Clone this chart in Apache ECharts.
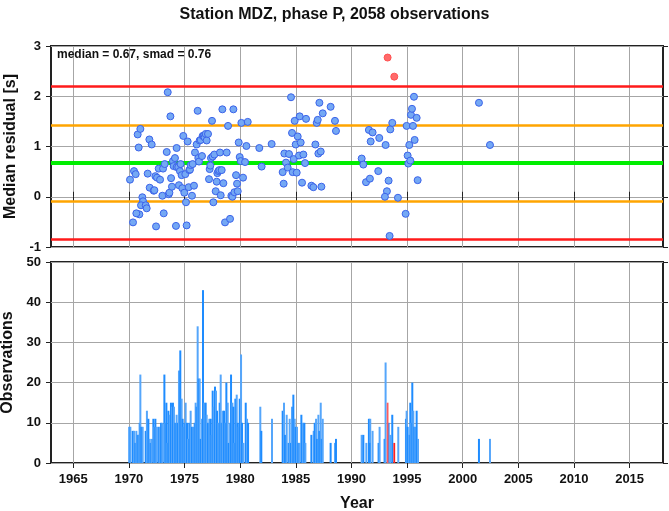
<!DOCTYPE html>
<html>
<head>
<meta charset="utf-8">
<script src="https://cdn.jsdelivr.net/npm/echarts@6/dist/echarts.min.js"></script>
<style>
html,body{margin:0;padding:0;background:#fff;}
#chart{width:669px;height:511px;}
</style>
</head>
<body>
<div id="chart"></div>
<script>
const titleText = 'Station MDZ, phase P, 2058 observations';
const medianValue = 0.67;
const smadValue = 0.76;
const xTicks = [1965, 1970, 1975, 1980, 1985, 1990, 1995, 2000, 2005, 2010, 2015];
const residualTicks = [-1, 0, 1, 2, 3];
const countTicks = [0, 10, 20, 30, 40, 50];

const scatterYears = [
1970.10,1970.37,1970.46,1970.61,1970.79,1970.88,1971.03,1970.94,1970.67,1971.21,1971.27,1971.09,1971.51,1971.60,1971.69,1971.84,1971.87,1972.05,1972.23,1972.29,
1972.38,1972.44,1972.53,1972.68,1972.80,1973.01,1973.07,1973.13,1973.22,1973.40,1973.49,1973.58,1973.64,1973.73,1973.79,1973.87,1973.96,1974.02,1974.14,1974.23,
1974.29,1974.29,1974.44,1974.50,1974.59,1974.65,1974.74,1974.80,1974.89,1974.98,1975.07,1975.13,1975.19,1975.28,1975.37,1975.43,1975.49,1975.55,1975.67,1975.73,
1975.85,1975.94,1976.09,1976.18,1976.24,1976.30,1976.36,1976.45,1976.57,1976.63,1976.72,1976.81,1976.90,1976.99,1977.11,1977.20,1977.26,1977.32,1977.38,1977.47,
1977.53,1977.59,1977.68,1977.80,1977.89,1977.95,1978.04,1978.13,1978.19,1978.25,1978.34,1978.40,1978.49,1978.64,1978.79,1978.91,1979.09,1979.21,1979.30,1979.39,
1979.48,1979.63,1979.72,1979.78,1979.87,1979.96,1980.05,1980.11,1980.26,1980.44,1980.56,1980.68,1981.72,1981.93,1982.83,1983.82,1983.91,1983.97,1984.12,1984.27,
1984.39,1984.57,1984.66,1984.72,1984.81,1984.90,1984.99,1985.08,1985.17,1985.29,1985.35,1985.44,1985.56,1985.68,1985.83,1985.92,1986.40,1986.58,1986.76,1986.88,
1986.97,1987.03,1987.24,1987.30,1987.12,1987.42,1988.13,1988.52,1988.61,
1990.92,1991.07,1991.31,1991.66,1991.57,1991.90,1991.73,1992.50,1992.41,1993.07,1993.34,1993.19,1993.01,1993.43,1993.49,1993.67,1994.18,1994.87,1994.96,1995.05,
1995.11,1995.20,1995.29,1995.35,1995.44,1995.53,1995.62,1995.68,1995.86,1995.95,2001.46,2002.45
];
const scatterResiduals = [
0.34,-0.51,0.51,0.45,1.24,0.98,1.35,-0.35,-0.33,-0.01,-0.09,-0.17,-0.17,-0.23,0.46,1.14,0.18,1.04,0.12,0.13,
0.41,-0.59,0.38,0.56,0.34,0.02,0.56,-0.33,0.65,0.89,2.08,0.05,0.08,1.60,0.37,0.20,0.71,0.61,0.77,-0.58,
0.97,0.59,0.59,0.23,0.51,0.65,0.43,0.17,1.21,0.08,0.45,-0.11,-0.57,1.10,0.19,0.53,0.54,0.63,0.02,0.65,
0.22,0.88,1.04,1.71,0.77,0.70,1.12,1.13,0.81,1.21,1.21,1.18,1.25,1.12,1.25,0.35,0.55,0.62,0.77,1.51,
0.80,-0.11,0.84,0.11,0.30,0.47,0.51,0.53,0.88,0.03,0.53,1.74,0.27,-0.51,0.88,1.41,-0.44,0.02,0.00,1.74,
0.09,0.43,0.26,0.11,1.08,0.79,0.71,1.47,0.38,0.69,1.01,1.49,0.97,0.60,1.05,0.49,0.26,0.86,0.68,0.58,
0.85,1.98,1.27,0.49,0.75,1.51,1.04,0.48,1.20,0.82,1.60,1.08,0.28,0.84,0.67,1.55,0.22,0.19,1.04,1.47,
1.53,0.86,0.90,0.20,1.87,1.66,1.79,1.51,1.31,
0.76,0.64,0.29,0.36,1.33,1.28,1.10,1.17,0.51,1.03,0.32,0.11,0.00,-0.78,1.34,1.47,-0.02,-0.34,1.41,0.82,
0.66,1.03,0.72,1.63,1.75,1.41,1.99,1.13,1.57,0.33,1.87,1.03
];
const outlierYears = [1993.25, 1993.85];
const outlierResiduals = [2.77, 2.39];

const barYears = [
1970.04,1970.13,1970.34,1970.46,1970.58,1970.67,1970.79,1970.88,1970.97,1971.03,1971.12,1971.24,1971.51,1971.62,1971.75,1971.87,1971.96,1972.05,1972.20,1972.29,
1972.38,1972.47,1972.65,1972.77,1972.89,1973.01,1973.19,1973.28,1973.37,1973.46,1973.55,1973.67,1973.78,1973.87,1973.96,1974.05,1974.17,1974.29,1974.38,1974.50,
1974.62,1974.74,1974.83,1974.92,1975.01,1975.10,1975.22,1975.31,1975.43,1975.55,1975.67,1975.79,1975.91,1976.00,1976.09,1976.18,1976.27,1976.36,1976.45,1976.57,
1976.66,1976.78,1976.90,1976.99,1977.11,1977.23,1977.35,1977.44,1977.53,1977.62,1977.74,1977.83,1977.92,1978.04,1978.16,1978.25,1978.34,1978.43,1978.55,1978.67,
1978.76,1978.88,1978.97,1979.09,1979.18,1979.30,1979.39,1979.48,1979.57,1979.69,1979.78,1979.87,1979.96,1980.08,1980.17,1980.29,1980.50,1980.62,1980.71,1981.81,
1981.90,1982.86,1983.82,1983.94,1984.03,1984.18,1984.36,1984.45,1984.57,1984.66,1984.78,1984.90,1984.99,1985.11,1985.23,1985.32,1985.50,1985.65,1985.77,1985.86,
1986.40,1986.61,1986.70,1986.82,1986.91,1987.03,1987.12,1987.24,1987.33,1987.42,1988.13,1988.52,1988.61,
1990.92,1991.07,1991.34,1991.57,1991.69,1991.62,1991.90,1992.44,1992.53,1992.98,1993.07,1993.34,1993.49,1993.67,1994.21,1994.90,1994.96,1995.05,1995.17,1995.29,
1995.38,1995.47,1995.56,1995.65,1995.74,1995.86,1995.98,2001.46,2002.45
];
const barCounts = [
9,9,8,8,5,8,7,7,10,22,9,9,8,13,11,6,5,6,11,9,
11,9,9,9,10,10,22,10,15,5,13,12,15,14,15,14,10,12,10,23,
28,16,11,9,10,15,10,6,10,13,9,9,10,15,14,34,21,21,6,11,
43,15,15,12,10,11,11,7,18,14,19,18,13,10,15,22,10,13,13,10,
20,15,5,10,22,15,14,5,16,17,10,9,16,27,10,5,15,11,10,14,
8,11,13,15,7,12,5,11,5,14,17,11,9,9,5,5,12,10,10,5,
7,8,10,11,6,12,8,15,6,11,5,5,6,
7,7,5,11,11,5,8,5,9,6,25,10,7,12,9,11,13,9,7,15,
10,20,13,9,9,13,6,6,6
];
const outlierBarYears = [1993.25, 1993.85];
const outlierBarCounts = [15, 5];

const FONT = '"Liberation Sans", Arial, Helvetica, sans-serif';
const gridColor = '#a6a6a6';
const frameColor = '#222';

const chart = echarts.init(document.getElementById('chart'), null, {renderer: 'canvas'});

function xAxisCfg(gridIndex, position, showLabels, showSplit, showTicks) {
  return {
    type: 'value', gridIndex: gridIndex, position: position,
    min: 1963, max: 2018,
    axisLine: {show: false},
    axisTick: {show: showTicks, customValues: xTicks, length: 5, lineStyle: {color: frameColor, width: 1}},
    axisLabel: {show: showLabels, customValues: xTicks, margin: 10, fontFamily: FONT, fontWeight: 'bold', fontSize: 13, color: '#111',
      formatter: v => String(v)},
    splitLine: {show: showSplit, lineStyle: {color: gridColor, width: 1}}
  };
}
function yAxisCfg(gridIndex, position, min, max, interval, showLabels, showSplit, name) {
  return {
    type: 'value', gridIndex: gridIndex, position: position,
    min: min, max: max, interval: interval,
    name: name || '', nameLocation: 'middle', nameGap: 32,
    nameTextStyle: {fontFamily: FONT, fontWeight: 'bold', fontSize: 16, color: '#111'},
    axisLine: {show: false},
    axisTick: {show: true, length: 5, lineStyle: {color: frameColor, width: 1}},
    axisLabel: {show: showLabels, margin: 10, fontFamily: FONT, fontWeight: 'bold', fontSize: 13, color: '#111'},
    splitLine: {show: showSplit, lineStyle: {color: gridColor, width: 1}}
  };
}

const scatterData = scatterYears.map((y, i) => [y, scatterResiduals[i]]);
const outlierData = outlierYears.map((y, i) => [y, outlierResiduals[i]]);
const barData = barYears.map((y, i) => [y, barCounts[i]]);
const outlierBarData = outlierBarYears.map((y, i) => [y, outlierBarCounts[i]]);

function barRenderer(colorFn, width) {
  return function (params, api) {
    const x = api.value(0), v = api.value(1);
    const p0 = api.coord([x, 0]);
    const p1 = api.coord([x, v]);
    return {
      type: 'rect',
      shape: {x: p0[0] - width / 2, y: p1[1], width: width, height: p0[1] - p1[1]},
      style: {fill: colorFn(params.dataIndex)}
    };
  };
}

const lineLevels = [
  {v: medianValue + 2 * smadValue, c: '#ff1a1a', w: 2.5},
  {v: medianValue + smadValue, c: '#ffa500', w: 2.5},
  {v: medianValue, c: '#00ee00', w: 4},
  {v: medianValue - smadValue, c: '#ffa500', w: 2.5},
  {v: medianValue - 2 * smadValue, c: '#ff1a1a', w: 2.5}
];

const option = {
  animation: false,
  backgroundColor: '#fff',
  title: [
    {text: titleText, left: 'center', top: 2, textStyle: {fontFamily: FONT, fontWeight: 'bold', fontSize: 16, color: '#111'}},
    {text: 'median = ' + medianValue.toFixed(2) + ', smad = ' + smadValue.toFixed(2), left: 52, top: 44,
     textStyle: {fontFamily: FONT, fontWeight: 'bold', fontSize: 12, color: '#111'}}
  ],
  grid: [
    {left: 51, right: 6, top: 46, height: 201, show: true, borderColor: frameColor, borderWidth: 2, backgroundColor: 'transparent',
     containLabel: false, outerBoundsMode: 'none'},
    {left: 51, right: 6, top: 262, height: 201, show: true, borderColor: frameColor, borderWidth: 2, backgroundColor: 'transparent',
     containLabel: false, outerBoundsMode: 'none'}
  ],
  xAxis: [
    xAxisCfg(0, 'bottom', false, true, true),
    xAxisCfg(0, 'top', false, false, true),
    Object.assign(xAxisCfg(1, 'bottom', true, true, true), {name: 'Year', nameLocation: 'middle', nameGap: 33,
      nameTextStyle: {fontFamily: FONT, fontWeight: 'bold', fontSize: 16, color: '#111'}}),
    xAxisCfg(1, 'top', false, false, false)
  ],
  yAxis: [
    yAxisCfg(0, 'left', -1, 3, 1, true, true, 'Median residual [s]'),
    yAxisCfg(0, 'right', -1, 3, 1, false, false),
    yAxisCfg(1, 'left', 0, 50, 10, true, true, 'Observations'),
    yAxisCfg(1, 'right', 0, 50, 10, false, false)
  ],
  series: [
    {
      type: 'line', xAxisIndex: 0, yAxisIndex: 0, data: [], z: 1, silent: true,
      markLine: {
        silent: true, symbol: 'none', animation: false,
        label: {show: false},
        data: lineLevels.map(l => ({yAxis: l.v, lineStyle: {color: l.c, width: l.w, type: 'solid'}}))
      }
    },
    {
      type: 'scatter', xAxisIndex: 0, yAxisIndex: 0, data: scatterData, z: 5,
      symbol: 'circle', symbolSize: 7,
      itemStyle: {color: '#74a8f4', borderColor: '#3b63ea', borderWidth: 1, opacity: 1}
    },
    {
      type: 'scatter', xAxisIndex: 0, yAxisIndex: 0, data: outlierData, z: 5,
      symbol: 'circle', symbolSize: 7,
      itemStyle: {color: '#ff6a6a', borderColor: '#ff5050', borderWidth: 1, opacity: 1}
    },
    {
      type: 'custom', xAxisIndex: 2, yAxisIndex: 2, data: barData, z: 3,
      renderItem: barRenderer(i => (i % 2 === 0 ? '#1e8cff' : '#55a6fb'), 2),
      encode: {x: 0, y: 1}
    },
    {
      type: 'custom', xAxisIndex: 2, yAxisIndex: 2, data: outlierBarData, z: 4,
      renderItem: barRenderer(i => (i === 0 ? '#ff5c5c' : '#ff2020'), 1.8),
      encode: {x: 0, y: 1}
    }
  ]
};
chart.setOption(option);
</script>
</body>
</html>
